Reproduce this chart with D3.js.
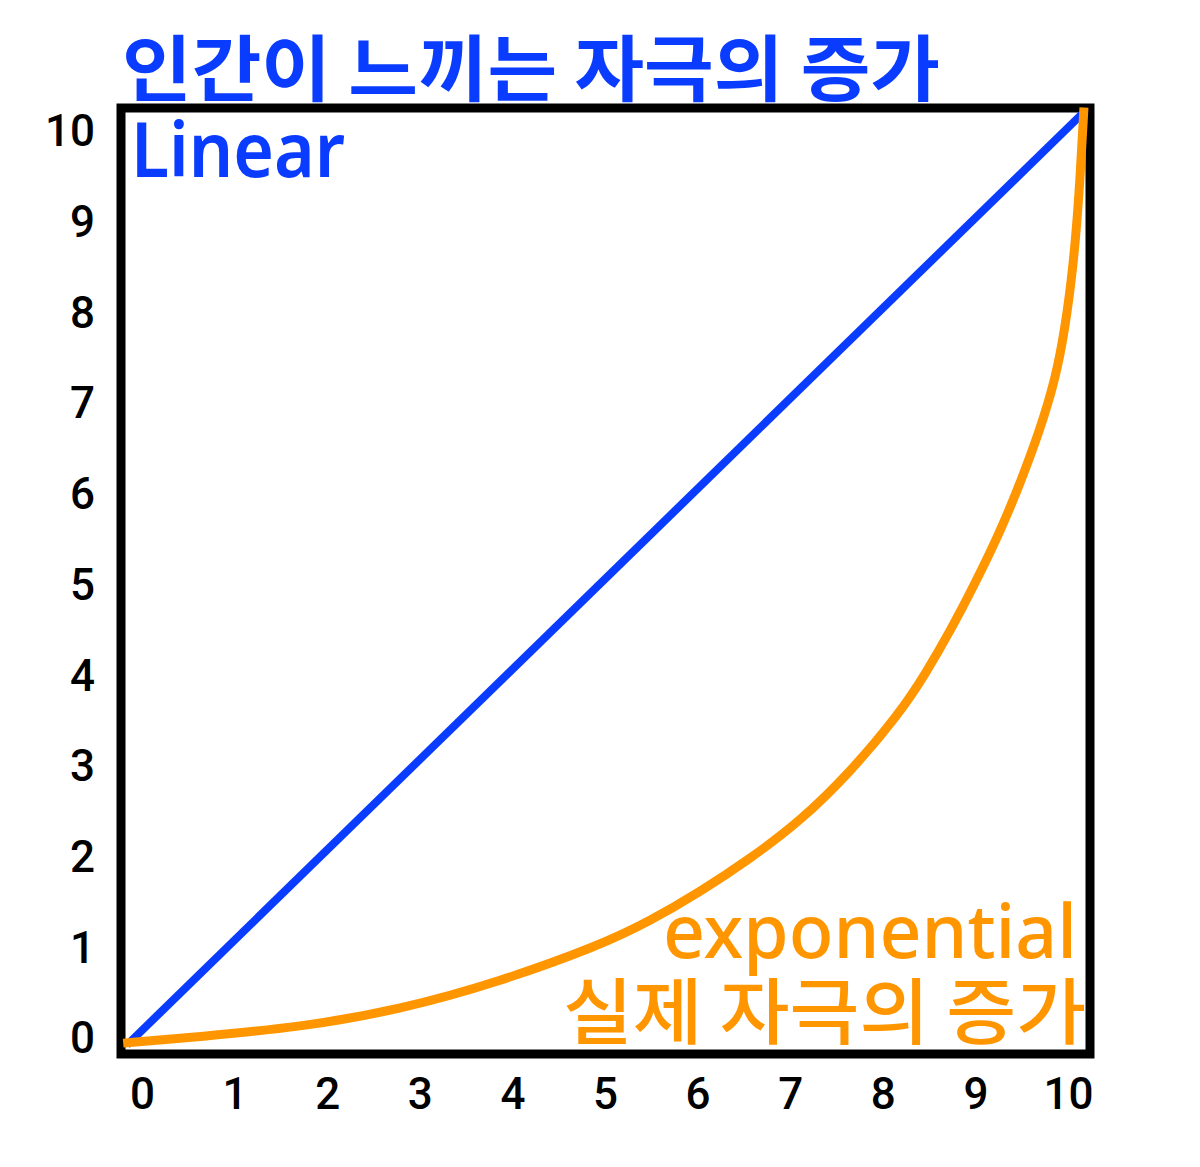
<html>
<head>
<script src="https://d3js.org/d3.v7.min.js"></script>
<style>
body { margin:0; background:#fff; }
</style>
</head>
<body>
<div id="chart"></div>
<script>
	// tick labels on both axes
	var xTicks = [0,1,2,3,4,5,6,7,8,9,10];
	var yTicks = [0,1,2,3,4,5,6,7,8,9,10];

	// linear series: what a human perceives
	var linearX = [0, 10];
	var linearY = [0, 10];

	var expX = [-0.04, 0.76, 1.81, 2.86, 3.90, 4.95, 5.47, 5.99, 6.52, 7.04, 7.56, 8.09, 8.35, 8.61, 8.87, 9.13, 9.34, 9.55, 9.71, 9.81, 9.90, 9.96, 10.01];
	var expY = [0.02, 0.09, 0.19, 0.38, 0.68, 1.07, 1.33, 1.64, 2.00, 2.40, 2.92, 3.57, 3.98, 4.44, 4.95, 5.50, 6.02, 6.60, 7.14, 7.67, 8.37, 9.12, 10.06];

	var titleText = "인간이 느끼는 자극의 증가";
	var linearLabel = "Linear";
	var expLabel1 = "exponential";
	var expLabel2 = "실제 자극의 증가";

	var width = 1200;
	var height = 1167;
	var blue = "#0a3cff";
	var orange = "#ff9600";

	var svg = d3.select("#chart").append("svg")
		.attr("width", width)
		.attr("height", height);

	svg.append("rect")
		.attr("width", width).attr("height", height)
		.attr("fill", "#fff");

	// scales for the lines
	var x = d3.scaleLinear().domain([0,10]).range([127,1083]);
	var y = d3.scaleLinear().domain([0,10]).range([1045,113]);
	// tick labels sit on slightly different spacing than the lines
	var xAxisScale = d3.scaleLinear().domain([0,10]).range([142,1068]);
	var yAxisScale = d3.scaleLinear().domain([0,10]).range([1037,130]);

	// frame
	svg.append("rect")
		.attr("x", 121).attr("y", 108)
		.attr("width", 969).attr("height", 946)
		.attr("fill", "none")
		.attr("stroke", "#000")
		.attr("stroke-width", 9);

	var tickFont = "Roboto, 'Noto Sans', sans-serif";

	var xAxis = svg.append("g")
		.attr("transform", "translate(0,1054)")
		.call(d3.axisBottom(xAxisScale).tickValues(xTicks).tickSize(0).tickPadding(0).tickFormat(d3.format("d")));
	xAxis.select(".domain").remove();
	xAxis.selectAll("text")
		.attr("dy", null)
		.attr("y", 55)
		.style("font-family", tickFont)
		.style("font-size", "44px")
		.style("font-weight", 500)
		.attr("fill", "#000");

	var yAxis = svg.append("g")
		.attr("transform", "translate(95,0)")
		.call(d3.axisLeft(yAxisScale).tickValues(yTicks).tickSize(0).tickPadding(0).tickFormat(d3.format("d")));
	yAxis.select(".domain").remove();
	yAxis.selectAll("text")
		.attr("dy", "0.36em")
		.style("font-family", tickFont)
		.style("font-size", "44px")
		.style("font-weight", 500)
		.attr("fill", "#000");

	var line = d3.line()
		.x(function(d){ return x(d[0]); })
		.y(function(d){ return y(d[1]); });

	svg.append("path")
		.datum(d3.zip(linearX, linearY))
		.attr("d", line)
		.attr("fill", "none")
		.attr("stroke", blue)
		.attr("stroke-width", 8);

	// b-spline keeps the hand-read points smooth
	svg.append("path")
		.datum(d3.zip(expX, expY))
		.attr("d", line.curve(d3.curveBasis))
		.attr("fill", "none")
		.attr("stroke", orange)
		.attr("stroke-width", 9);

	var korFont = "'Noto Sans CJK KR', 'Noto Sans', sans-serif";

	// labels
	svg.append("text")
		.attr("x", 122).attr("y", 95)
		.attr("textLength", 818).attr("lengthAdjust", "spacingAndGlyphs")
		.style("font-family", korFont).style("font-size", "72px").style("font-weight", 700)
		.attr("fill", blue)
		.text(titleText);

	svg.append("text")
		.attr("x", 131).attr("y", 177)
		.attr("textLength", 214).attr("lengthAdjust", "spacingAndGlyphs")
		.style("font-family", "'Noto Sans', sans-serif").style("font-size", "76px").style("font-weight", 600)
		.attr("fill", blue)
		.text(linearLabel);

	svg.append("text")
		.attr("x", 663).attr("y", 958)
		.attr("textLength", 414).attr("lengthAdjust", "spacingAndGlyphs")
		.style("font-family", "'Noto Sans', sans-serif").style("font-size", "74px").style("font-weight", 500)
		.attr("fill", orange)
		.text(expLabel1);

	svg.append("text")
		.attr("x", 563).attr("y", 1038)
		.attr("textLength", 523).attr("lengthAdjust", "spacingAndGlyphs")
		.style("font-family", korFont).style("font-size", "72px").style("font-weight", 500)
		.attr("fill", orange)
		.text(expLabel2);
</script>
</body>
</html>
